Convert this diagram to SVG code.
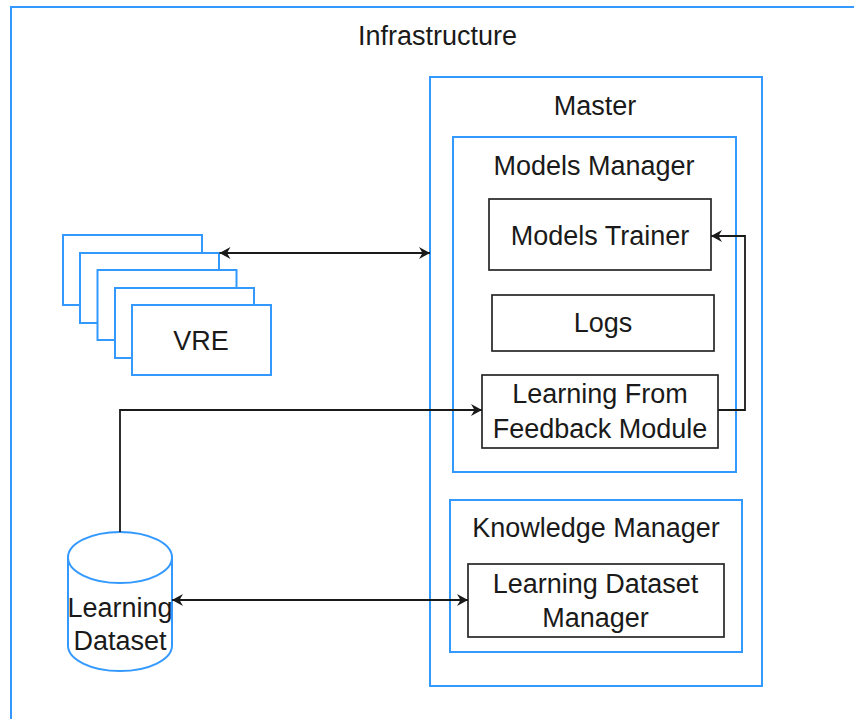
<svg xmlns="http://www.w3.org/2000/svg" width="854" height="719" viewBox="0 0 854 719">
  <style>
    .blue { fill: #ffffff; stroke: #3399ff; stroke-width: 2; }
    .box { fill: #ffffff; stroke: #262626; stroke-width: 1.7; }
    .lbl { font-family: "Liberation Sans", Arial, sans-serif; font-size: 27px; fill: #1a1a1a; text-anchor: middle; }
    .wire { fill: none; stroke: #1a1a1a; stroke-width: 1.8; }
  </style>
  <defs>
    <marker id="arrow" markerUnits="userSpaceOnUse" markerWidth="14" markerHeight="14" refX="12" refY="7" orient="auto-start-reverse" viewBox="0 0 14 14">
      <path d="M1,1 L12,7 L1,13 L4.5,7 Z" fill="#1a1a1a"/>
    </marker>
  </defs>

  <rect width="854" height="719" fill="#ffffff"/>

  <!-- Outer infrastructure frame (runs off the right and bottom edges) -->
  <g id="infrastructure">
    <rect class="blue" x="11" y="7" width="860" height="730"/>
    <text class="lbl" x="437.5" y="45">Infrastructure</text>
  </g>

  <g id="master">
    <rect class="blue" x="430" y="77" width="332" height="609"/>
    <text class="lbl" x="595" y="115">Master</text>
  </g>

  <g id="models-manager">
    <rect class="blue" x="453" y="137" width="283" height="335"/>
    <text class="lbl" x="594" y="175">Models Manager</text>
  </g>

  <g id="models-trainer">
    <rect class="box" x="489" y="199" width="222" height="71"/>
    <text class="lbl" x="600" y="245">Models Trainer</text>
  </g>

  <g id="logs">
    <rect class="box" x="492" y="295" width="222" height="56"/>
    <text class="lbl" x="603" y="332">Logs</text>
  </g>

  <g id="feedback-module">
    <rect class="box" x="482" y="375" width="236" height="73"/>
    <text class="lbl" x="600" y="403">Learning From</text>
    <text class="lbl" x="600" y="437.5">Feedback Module</text>
  </g>

  <g id="knowledge-manager">
    <rect class="blue" x="450" y="500" width="292" height="152"/>
    <text class="lbl" x="596" y="537">Knowledge Manager</text>
  </g>

  <g id="dataset-manager">
    <rect class="box" x="468" y="564" width="256" height="73"/>
    <text class="lbl" x="595.5" y="592.5">Learning Dataset</text>
    <text class="lbl" x="595.5" y="627">Manager</text>
  </g>

  <!-- Stack of VRE instances, back to front -->
  <g id="vre">
    <rect class="blue" x="63" y="235" width="139" height="70"/>
    <rect class="blue" x="80" y="253" width="139" height="70"/>
    <rect class="blue" x="97.5" y="270" width="139" height="70"/>
    <rect class="blue" x="115" y="288" width="139" height="70"/>
    <rect class="blue" x="132" y="305" width="139" height="70"/>
    <text class="lbl" x="201" y="349.5">VRE</text>
  </g>

  <g id="learning-dataset">
    <path class="blue" d="M68,557.5 A52,25.5 0 0 1 172,557.5 V645.5 A52,25.5 0 0 1 68,645.5 Z"/>
    <path d="M68,557.5 A52,25.5 0 0 0 172,557.5" fill="none" stroke="#3399ff" stroke-width="2"/>
    <text class="lbl" x="120" y="616.5">Learning</text>
    <text class="lbl" x="120" y="650">Dataset</text>
  </g>

  <g id="connectors">
    <line class="wire" x1="219.5" y1="253" x2="430" y2="253" marker-start="url(#arrow)" marker-end="url(#arrow)"/>
    <polyline class="wire" points="120,532 120,410 482,410" marker-end="url(#arrow)"/>
    <polyline class="wire" points="718,410 745,410 745,236 711,236" marker-end="url(#arrow)"/>
    <line class="wire" x1="172" y1="600" x2="468" y2="600" marker-start="url(#arrow)" marker-end="url(#arrow)"/>
  </g>
</svg>
